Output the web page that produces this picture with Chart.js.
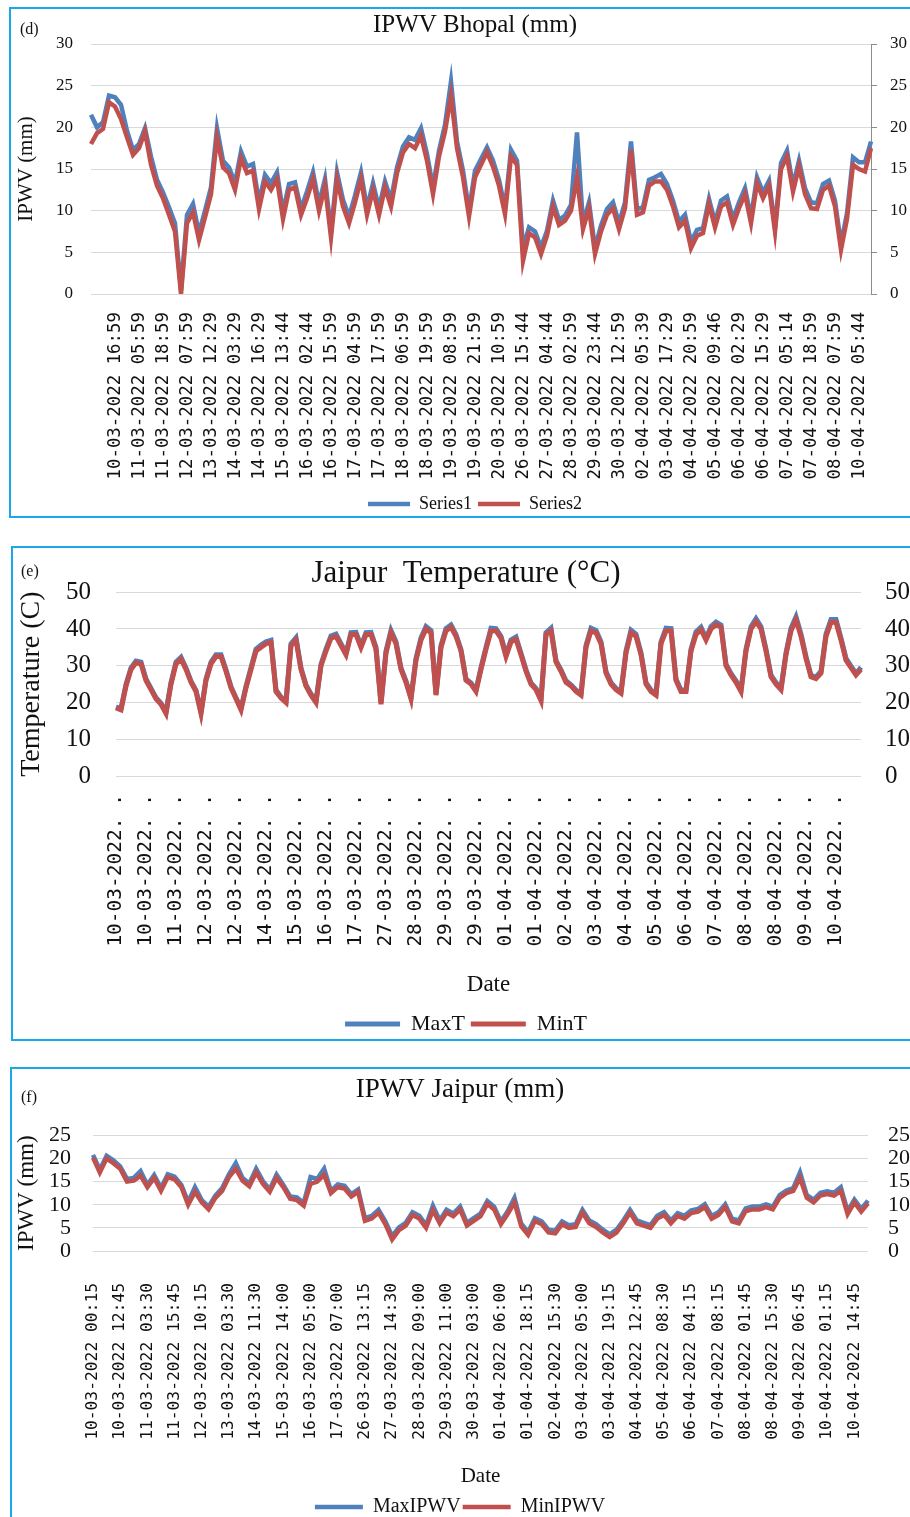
<!DOCTYPE html>
<html>
<head>
<meta charset="utf-8">
<script src="https://cdn.jsdelivr.net/npm/chart.js@4.4.1/dist/chart.umd.min.js"></script>
<style>
  html, body { margin: 0; padding: 0; background: #fff; overflow: hidden; width: 910px; height: 1517px; }
  .box { position: absolute; border: 2px solid #1aa9e8; box-sizing: border-box; }
  canvas { position: absolute; left: 0; }
  .tag { position: absolute; font: 16px "Liberation Serif", serif; line-height: 1; color: #111; }
</style>
</head>
<body>
<div class="box" style="left:9px;top:7px;width:960px;height:511px"></div>
<div class="box" style="left:11px;top:546px;width:960px;height:495px"></div>
<div class="box" style="left:10px;top:1067px;width:960px;height:500px"></div>

<canvas id="chartD" width="950" height="525" style="top:0px"></canvas>
<canvas id="chartE" width="932" height="506" style="top:540px"></canvas>
<canvas id="chartF" width="920" height="465" style="top:1062px"></canvas>

<div class="tag" style="left:20px;top:21px">(d)</div>
<div class="tag" style="left:21px;top:563px">(e)</div>
<div class="tag" style="left:21px;top:1089px">(f)</div>

<script>
// (d) IPWV Bhopal
const D_TICKS = ["10-03-2022 16:59","11-03-2022 05:59","11-03-2022 18:59","12-03-2022 07:59","13-03-2022 12:29","14-03-2022 03:29","14-03-2022 16:29","15-03-2022 13:44","16-03-2022 02:44","16-03-2022 15:59","17-03-2022 04:59","17-03-2022 17:59","18-03-2022 06:59","18-03-2022 19:59","19-03-2022 08:59","19-03-2022 21:59","20-03-2022 10:59","26-03-2022 15:44","27-03-2022 04:44","28-03-2022 02:59","29-03-2022 23:44","30-03-2022 12:59","02-04-2022 05:39","03-04-2022 17:29","04-04-2022 20:59","05-04-2022 09:46","06-04-2022 02:29","06-04-2022 15:29","07-04-2022 05:14","07-04-2022 18:59","08-04-2022 07:59","10-04-2022 05:44"];
const D_SERIES1 = [21.5,20.0,20.6,23.8,23.6,22.7,19.6,17.3,18.0,19.9,
  16.5,13.7,12.2,10.4,8.5,0.5,9.5,10.8,7.3,10.0,
  12.8,19.9,16.0,15.2,13.3,17.1,15.3,15.6,11.0,14.3,
  13.3,14.6,9.8,13.2,13.4,10.2,12.3,14.6,10.8,13.8,
  7.5,14.6,11.3,9.3,11.8,14.6,10.3,13.3,10.3,13.5,
  11.3,15.2,17.7,18.8,18.5,19.9,16.8,12.8,17.2,20.3,
  25.5,18.3,14.8,10.0,14.8,16.2,17.6,16.0,13.7,10.3,
  17.3,16.0,5.5,8.0,7.5,5.6,7.6,11.2,8.9,9.4,
  10.7,19.4,8.5,11.0,5.5,8.2,10.2,11.0,8.5,11.0,
  18.3,10.2,10.4,13.7,14.0,14.4,13.2,11.2,8.7,9.5,
  6.3,7.7,7.9,11.4,8.6,11.2,11.7,9.0,11.0,12.7,
  9.2,14.0,12.2,13.6,8.0,15.7,17.2,13.0,16.0,12.7,
  11.0,10.9,13.2,13.6,11.2,6.0,9.7,16.4,15.8,15.8,18.3];
const D_SERIES2 = [18.0,19.3,19.8,23.0,22.5,21.0,18.8,16.7,17.5,19.5,
  15.5,13.0,11.5,9.5,7.5,0.0,8.5,9.8,6.5,9.2,
  12.0,18.8,15.2,14.5,12.5,16.3,14.5,14.8,10.2,13.5,
  12.5,13.8,9.0,12.5,12.8,9.5,11.5,13.8,10.0,13.0,
  6.8,13.8,10.5,8.5,11.0,13.8,9.5,12.5,9.5,12.8,
  10.5,14.5,17.0,18.0,17.5,19.0,16.0,12.0,16.5,19.5,
  23.8,17.5,14.0,9.3,14.0,15.5,17.0,15.3,13.0,9.6,
  16.5,15.5,4.0,7.3,6.8,4.8,7.0,10.5,8.3,8.8,
  10.0,14.0,7.8,10.3,4.8,7.5,9.5,10.3,7.8,10.3,
  17.3,9.5,9.8,13.0,13.5,13.5,12.5,10.5,8.0,8.8,
  5.5,7.0,7.3,10.8,8.0,10.5,11.0,8.3,10.3,12.0,
  8.5,13.3,11.5,13.0,7.5,15.0,16.5,12.3,15.3,12.0,
  10.3,10.2,12.5,13.0,10.5,5.3,9.0,15.5,15.0,14.7,17.5];

// (e) Jaipur temperature
const E_TICKS = ["10-03-2022. .","10-03-2022. .","11-03-2022. .","12-03-2022. .","12-03-2022. .","14-03-2022. .","15-03-2022. .","16-03-2022. .","17-03-2022. .","27-03-2022. .","28-03-2022. .","29-03-2022. .","29-03-2022. .","01-04-2022. .","01-04-2022. .","02-04-2022. .","03-04-2022. .","04-04-2022. .","05-04-2022. .","06-04-2022. .","07-04-2022. .","08-04-2022. .","08-04-2022. .","09-04-2022. .","10-04-2022. ."];
const E_MAXT = [18.8,18.3,24.9,29.4,31.3,31.0,26.4,23.8,21.3,19.8,
  17.4,25.4,31.0,32.3,29.4,25.8,23.3,17.4,26.4,31.0,
  33.0,33.0,28.9,24.3,21.3,18.4,24.4,29.5,34.5,35.6,
  36.5,36.9,23.4,21.5,20.4,36.0,37.6,29.4,24.8,22.3,
  20.4,30.4,34.5,38.1,38.6,36.0,33.4,39.0,39.1,35.4,
  39.0,39.1,35.0,19.9,34.0,39.6,36.5,29.4,25.8,21.4,
  32.0,37.6,40.7,39.6,22.4,35.5,40.1,41.1,38.5,34.4,
  26.4,25.3,23.4,29.5,35.0,40.2,40.1,38.0,33.0,37.0,
  37.8,33.4,28.9,25.3,23.8,20.9,39.0,40.2,31.4,28.9,
  25.9,24.8,23.4,22.4,35.5,40.2,39.6,36.5,28.4,25.4,
  23.9,22.9,34.0,39.7,38.6,33.5,25.4,23.4,22.4,36.5,
  40.2,40.1,26.4,23.4,23.4,34.5,39.2,40.5,37.5,40.7,
  41.9,41.1,30.4,27.9,25.9,23.4,34.5,40.6,42.8,40.6,
  34.5,27.4,25.4,23.9,33.5,40.2,43.3,38.6,32.5,27.4,
  26.9,28.5,38.6,42.6,42.6,37.5,32.0,29.9,27.9,29.6];
const E_MINT = [18.5,18.0,24.5,29.0,30.8,30.5,26.0,23.5,21.0,19.5,
  17.0,25.0,30.5,31.8,29.0,25.5,23.0,17.0,26.0,30.5,
  32.5,32.5,28.5,24.0,21.0,18.0,24.0,29.0,34.0,35.0,
  36.0,36.3,23.0,21.2,20.0,35.5,37.0,29.0,24.5,22.0,
  20.0,30.0,34.0,37.5,38.0,35.5,33.0,38.5,38.5,35.0,
  38.5,38.5,34.5,19.5,33.5,39.0,36.0,29.0,25.5,21.0,
  31.5,37.0,40.0,39.0,22.0,35.0,39.5,40.5,38.0,34.0,
  26.0,25.0,23.0,29.0,34.5,39.5,39.5,37.5,32.5,36.5,
  37.2,33.0,28.5,25.0,23.5,20.5,38.5,39.5,31.0,28.5,
  25.5,24.5,23.0,22.0,35.0,39.5,39.0,36.0,28.0,25.0,
  23.5,22.5,33.5,39.0,38.0,33.0,25.0,23.0,22.0,36.0,
  39.5,39.5,26.0,23.0,23.0,34.0,38.5,39.8,37.0,40.0,
  41.2,40.5,30.0,27.5,25.5,23.0,34.0,40.0,42.0,40.0,
  34.0,27.0,25.0,23.5,33.0,39.5,42.5,38.0,32.0,27.0,
  26.5,28.0,38.0,41.8,41.8,37.0,31.5,29.5,27.5,29.0];

// (f) IPWV Jaipur
const F_TICKS = ["10-03-2022 00:15","10-03-2022 12:45","11-03-2022 03:30","11-03-2022 15:45","12-03-2022 10:15","13-03-2022 03:30","14-03-2022 11:30","15-03-2022 14:00","16-03-2022 05:00","17-03-2022 07:00","26-03-2022 13:15","27-03-2022 14:30","28-03-2022 09:00","29-03-2022 11:00","30-03-2022 03:00","01-04-2022 06:00","01-04-2022 18:15","02-04-2022 15:30","03-04-2022 05:00","03-04-2022 19:15","04-04-2022 12:45","05-04-2022 08:30","06-04-2022 04:15","07-04-2022 08:15","08-04-2022 01:45","08-04-2022 15:30","09-04-2022 06:45","10-04-2022 01:15","10-04-2022 14:45"];
const F_MAX = [20.8,17.6,20.6,19.6,18.3,15.6,15.8,17.3,14.3,16.4,
  13.6,16.6,16.1,14.3,10.6,13.8,11.0,9.6,12.0,13.6,
  16.6,19.0,15.8,14.6,17.8,15.1,13.3,16.5,14.3,11.8,
  11.6,10.4,16.0,15.6,17.8,13.0,14.4,14.1,12.3,13.3,
  7.1,7.6,8.9,6.4,3.2,5.1,6.1,8.4,7.6,5.6,
  9.8,6.6,8.9,8.1,9.6,6.1,7.1,8.1,10.8,9.6,
  6.4,8.6,11.5,5.9,4.1,7.1,6.4,4.6,4.4,6.4,
  5.6,5.8,8.9,6.6,5.8,4.6,3.6,4.6,6.6,8.9,
  6.6,6.1,5.6,7.6,8.4,6.6,8.2,7.6,8.8,9.1,
  10.1,7.6,8.4,10.1,7.0,6.6,9.2,9.6,9.6,10.1,
  9.6,12.1,13.1,13.6,17.0,12.1,11.1,12.6,12.9,12.6,
  13.8,8.6,11.1,9.1,10.9];
const F_MIN = [20.2,17.0,20.0,19.0,17.8,15.0,15.2,16.3,13.8,15.8,
  13.0,16.0,15.5,13.8,10.0,12.8,10.5,9.0,11.5,13.0,
  16.0,17.8,15.2,14.0,17.0,14.5,12.8,15.8,13.8,11.3,
  11.0,9.8,14.5,15.0,16.5,12.5,13.8,13.5,11.8,12.8,
  6.5,7.0,8.3,5.8,2.5,4.5,5.5,7.8,7.0,5.0,
  8.8,6.0,8.3,7.5,9.0,5.5,6.5,7.5,10.2,9.0,
  5.8,8.0,10.5,5.3,3.5,6.5,5.8,4.0,3.8,5.8,
  5.0,5.2,8.3,6.0,5.2,4.0,3.0,4.0,6.0,8.3,
  6.0,5.5,5.0,7.0,7.8,6.0,7.6,7.0,8.2,8.5,
  9.5,7.0,7.8,9.5,6.4,6.0,8.6,9.0,9.0,9.5,
  9.0,11.5,12.5,13.0,15.8,11.5,10.5,12.0,12.3,12.0,
  13.0,8.0,10.5,8.5,10.3];

const BLUE = '#4f81bd';
const RED = '#c0504d';
const GRID = '#d9d9d9';
const SERIF = '"Liberation Serif", "Times New Roman", serif';
const MONO = '"DejaVu Sans Mono", monospace';

Chart.defaults.font.family = SERIF;
Chart.defaults.color = '#1a1a1a';
Chart.defaults.animation = false;

// one label every `step` points, starting at `first`, blanks elsewhere
function spreadLabels(n, first, step, names) {
  return Array.from({ length: n }, (_, i) =>
    (i >= first && (i - first) % step === 0) ? (names[(i - first) / step] || '') : '');
}

function buildChart(id, p) {
  const labels = spreadLabels(p.red.length, p.first, p.step, p.ticks);
  return new Chart(document.getElementById(id), {
    type: 'line',
    data: {
      labels,
      datasets: [
        { label: p.blueName, data: p.blue, borderColor: BLUE, backgroundColor: BLUE,
          borderWidth: p.lw, pointRadius: 0, tension: 0, order: 1 },
        { label: p.redName, data: p.red, borderColor: RED, backgroundColor: RED,
          borderWidth: p.lw, pointRadius: 0, tension: 0, order: 0 }
      ]
    },
    options: {
      responsive: false,
      layout: { padding: { left: 0, right: 0, top: 0, bottom: p.bottomPad } },
      plugins: {
        tooltip: { enabled: false },
        title: {
          display: true, text: p.title, color: '#111',
          font: { size: p.titleSize, weight: 'normal' },
          padding: p.titlePad
        },
        legend: {
          position: 'bottom',
          labels: {
            usePointStyle: true, pointStyle: 'line', pointStyleWidth: p.legendLine,
            font: { size: p.legendSize }, padding: p.legendPad, color: '#111',
            sort: (a, b) => a.datasetIndex - b.datasetIndex
          }
        }
      },
      scales: {
        x: {
          type: 'category',
          ticks: { autoSkip: false, minRotation: 90, maxRotation: 90, padding: p.xPad,
                   font: { family: MONO, size: p.xFont }, color: '#111' },
          grid: { display: false, drawTicks: false },
          border: { display: false },
          title: { display: !!p.xTitle, text: p.xTitle || '', color: '#111',
                   font: { size: p.xTitleSize || 12 }, padding: { top: 0, bottom: p.xTitlePad || 0 } },
          afterFit: (s) => { s.height = p.xH; }
        },
        y: {
          position: 'left', min: 0, max: p.yMax,
          ticks: { stepSize: p.yStep, autoSkip: false, padding: p.leftPad,
                   font: { size: p.tickSize }, color: '#111' },
          grid: { color: GRID, drawTicks: false },
          border: { display: false },
          title: { display: true, text: p.yTitle, color: '#111',
                   font: { size: p.yTitleSize }, padding: { top: p.yTitlePad, bottom: 0 } },
          afterFit: (s) => { s.width = p.leftW; }
        },
        y2: {
          position: 'right', min: 0, max: p.yMax,
          ticks: { stepSize: p.yStep, autoSkip: false, padding: p.rightPad,
                   font: { size: p.tickSize }, color: '#111' },
          grid: { display: p.rightLine, drawOnChartArea: false, drawTicks: p.rightLine,
                  tickLength: 6, color: '#8c8c8c' },
          border: { display: p.rightLine, color: '#8c8c8c' },
          afterFit: (s) => { s.width = p.rightW; }
        }
      }
    }
  });
}

buildChart('chartD', {
  blue: D_SERIES1, red: D_SERIES2, blueName: 'Series1', redName: 'Series2',
  ticks: D_TICKS, first: 4, step: 4, lw: 4.5,
  title: 'IPWV Bhopal (mm)', titleSize: 25, titlePad: { top: 10, bottom: 4 },
  yTitle: 'IPWV (mm)', yTitleSize: 21, yTitlePad: 14,
  yMax: 30, yStep: 5, tickSize: 17, leftW: 91, rightW: 79, leftPad: 18, rightPad: 13, rightLine: true,
  xH: 195, xFont: 17.4, xPad: 18,
  legendSize: 18, legendPad: 6, legendLine: 42, bottomPad: 2
});

buildChart('chartE', {
  blue: E_MAXT, red: E_MINT, blueName: 'MaxT', redName: 'MinT',
  ticks: E_TICKS, first: 0, step: 6, lw: 5,
  title: 'Jaipur  Temperature (°C)', titleSize: 31, titlePad: { top: 15, bottom: 0 },
  yTitle: 'Temperature (C)', yTitleSize: 28, yTitlePad: 15,
  yMax: 50, yStep: 10, tickSize: 25, leftW: 116, rightW: 71, leftPad: 25, rightPad: 24, rightLine: false,
  xH: 231, xFont: 19.5, xPad: 18, xTitle: 'Date', xTitleSize: 23, xTitlePad: 8,
  legendSize: 22, legendPad: 6, legendLine: 55, bottomPad: 1
});

buildChart('chartF', {
  blue: F_MAX, red: F_MIN, blueName: 'MaxIPWV', redName: 'MinIPWV',
  ticks: F_TICKS, first: 0, step: 4, lw: 4.5,
  title: 'IPWV Jaipur (mm)', titleSize: 27, titlePad: { top: 12, bottom: 29 },
  yTitle: 'IPWV (mm)', yTitleSize: 23, yTitlePad: 13,
  yMax: 25, yStep: 5, tickSize: 22, leftW: 93, rightW: 52, leftPad: 22, rightPad: 20, rightLine: false,
  xH: 244, xFont: 16.3, xPad: 32, xTitle: 'Date', xTitleSize: 21, xTitlePad: 6,
  legendSize: 20, legendPad: 2, legendLine: 48, bottomPad: 0
});
</script>
</body>
</html>
